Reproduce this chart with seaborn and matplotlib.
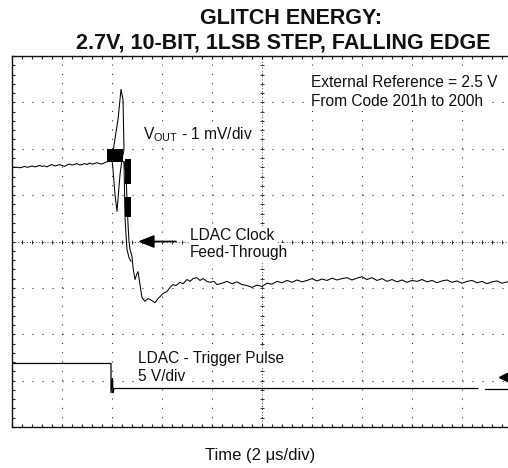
import numpy as np
import pandas as pd
import matplotlib
matplotlib.use("Agg")
import matplotlib.pyplot as plt
import seaborn as sns

# ---------------- data ----------------
# VOUT trace (time in us, voltage in mV on a 1 mV/div screen)
base_t = [-10.0, -9.9, -9.8, -9.7, -9.6, -9.5, -9.4, -9.3, -9.2, -9.1,
          -9.0, -8.9, -8.8, -8.7, -8.6, -8.5, -8.4, -8.3, -8.2, -8.1,
          -8.0, -7.9, -7.8, -7.7, -7.6, -7.5, -7.4, -7.3, -7.2, -7.1,
          -7.0, -6.9, -6.8, -6.7, -6.6, -6.5, -6.4, -6.3, -6.2]
base_mv = [1.61, 1.60, 1.60, 1.59, 1.60, 1.62, 1.60, 1.61, 1.63, 1.61,
           1.62, 1.64, 1.62, 1.63, 1.61, 1.64, 1.66, 1.63, 1.64, 1.66,
           1.64, 1.62, 1.65, 1.67, 1.65, 1.66, 1.68, 1.65, 1.66, 1.68,
           1.66, 1.69, 1.67, 1.68, 1.70, 1.68, 1.67, 1.70, 1.72]

glitch_t = [-6.16, -5.96, -5.76, -5.64, -5.56, -5.52, -5.60, -5.68, -5.76, -5.80,
            -5.88, -5.96, -6.00, -5.84, -5.52, -5.44, -5.40, -5.36, -5.32, -5.28,
            -5.20, -5.16, -5.08, -5.00, -4.96, -4.88, -4.80, -4.68, -4.56, -4.48,
            -4.36, -4.28, -4.16, -4.08, -3.96, -3.80, -3.68, -3.56, -3.44, -3.28,
            -3.16, -3.00, -2.88, -2.76, -2.60, -2.48, -2.36, -2.20, -2.08, -1.92,
            -1.80]
glitch_mv = [1.72, 1.94, 2.63, 3.28, 3.06, 1.98, 1.77, 1.44, 0.91, 0.65,
             1.01, 1.55, 1.77, 1.81, 1.72, 1.44, 0.91, 0.37, 0.00, -0.17,
             -0.32, -0.56, -0.82, -0.69, -0.65, -0.93, -1.21, -1.29, -1.23, -1.25,
             -1.29, -1.32, -1.23, -1.19, -1.12, -1.08, -0.99, -0.93, -0.95, -0.88,
             -0.91, -0.82, -0.86, -0.80, -0.78, -0.84, -0.80, -0.86, -0.88, -0.86,
             -0.93]

tail_t = [-1.6, -1.4, -1.2, -1.0, -0.8, -0.6, -0.4, -0.2, 0.0, 0.2,
          0.4, 0.6, 0.8, 1.0, 1.2, 1.4, 1.6, 1.8, 2.0, 2.2,
          2.4, 2.6, 2.8, 3.0, 3.2, 3.4, 3.6, 3.8, 4.0, 4.2,
          4.4, 4.6, 4.8, 5.0, 5.2, 5.4, 5.6, 5.8, 6.0, 6.2,
          6.4, 6.6, 6.8, 7.0, 7.2, 7.4, 7.6, 7.8, 8.0, 8.2,
          8.4, 8.6, 8.8, 9.0, 9.2, 9.4, 9.6, 9.8, 10.0]
tail_mv = [-0.90, -0.86, -0.91, -0.87, -0.93, -0.95, -0.99, -0.94, -0.97, -0.90,
           -0.92, -0.86, -0.89, -0.84, -0.88, -0.83, -0.87, -0.84, -0.80, -0.85,
           -0.81, -0.84, -0.79, -0.83, -0.80, -0.78, -0.83, -0.79, -0.76, -0.82,
           -0.78, -0.84, -0.80, -0.86, -0.82, -0.87, -0.83, -0.88, -0.84, -0.86,
           -0.82, -0.87, -0.84, -0.89, -0.85, -0.83, -0.88, -0.85, -0.90, -0.86,
           -0.84, -0.89, -0.86, -0.91, -0.87, -0.85, -0.90, -0.87, -0.89]

# second overlapping sweep through the falling edge
sweep2_t = [-5.52, -5.48, -5.44, -5.40, -5.32, -5.24]
sweep2_mv = [1.72, 0.52, 0.15, -0.17, -0.35, -0.43]

# persistence blocks around the glitch (time span, low/high mV)
block_t0 = [-6.20, -5.48, -5.48]
block_t1 = [-5.56, -5.24, -5.24]
block_lo = [1.72, 1.23, 0.52]
block_hi = [2.00, 1.77, 0.97]

# LDAC trigger pulse (volts, 5 V/div), two segments
trig_t = [-10.0, -6.04, -6.04, -5.98, -5.96, -5.92, 8.64]
trig_v = [2.7, 2.7, -0.45, 1.08, -0.45, 0.0, 0.0]
trig2_t = [8.92, 10.0]
trig2_v = [0.0, 0.0]
trig_level_v = 1.2

VOUT_PER_DIV = 1.0     # mV/div
TRIG_PER_DIV = 5.0     # V/div
TRIG_OFFSET_DIV = -3.17

# ---------------- figure ----------------
sns.set_theme(style="white")
plt.rcParams["font.family"] = ["Liberation Sans", "DejaVu Sans"]
plt.rcParams["lines.scale_dashes"] = False

W, H = 508, 468
fig = plt.figure(figsize=(W / 100, H / 100), dpi=100)
ax = fig.add_axes([12 / W, 41 / H, 500 / W, 371 / H])
ax.set_xlim(-10, 10)
ax.set_ylim(-4, 4)

# graticule
ax.set_xticks(np.arange(-10, 10.1, 2))
ax.set_yticks(np.arange(-4, 4.1, 1))
ax.set_xticks(np.arange(-10, 10.1, 0.4), minor=True)
ax.set_yticks(np.arange(-4, 4.1, 0.2), minor=True)
ax.tick_params(which="both", direction="in", length=2.5, width=0.8, color="#222222",
               top=True, right=True, bottom=True, left=True,
               labelbottom=False, labelleft=False)
ax.xaxis.grid(True, which="major", color="#333333", lw=0.8, ls=(0, (0.8, 5.88)))
ax.yaxis.grid(True, which="major", color="#333333", lw=0.8, ls=(0, (0.8, 6.4)))
for s in ax.spines.values():
    s.set_color("#111111")
    s.set_linewidth(1.0)

# centre crosshair with fine ticks
ax.axhline(0, color="#333333", lw=0.6, ls=(0, (0.7, 1.4)), zorder=1)
ax.axvline(0, color="#333333", lw=0.6, ls=(0, (0.7, 1.4)), zorder=1)
cx = np.arange(-10, 10.01, 0.4)
cy = np.arange(-4, 4.01, 0.2)
ax.plot(cx, np.zeros_like(cx), ls="none", marker="|", ms=3.5, mew=0.7, color="#333333")
ax.plot(np.zeros_like(cy), cy, ls="none", marker="_", ms=3.5, mew=0.7, color="#333333")

# VOUT trace
vout = pd.DataFrame({
    "t": base_t + glitch_t + tail_t,
    "div": np.array(base_mv + glitch_mv + tail_mv) / VOUT_PER_DIV,
})
sns.lineplot(data=vout, x="t", y="div", sort=False, estimator=None,
             color="black", lw=0.75, ax=ax)
sns.lineplot(x=sweep2_t, y=np.array(sweep2_mv) / VOUT_PER_DIV, sort=False,
             estimator=None, color="black", lw=0.75, ax=ax)
for t0, t1, lo, hi in zip(block_t0, block_t1, block_lo, block_hi):
    ax.fill_between([t0, t1], [lo / VOUT_PER_DIV] * 2, [hi / VOUT_PER_DIV] * 2,
                    color="black", lw=0, zorder=3)

# trigger trace
trig = pd.DataFrame({
    "t": trig_t + trig2_t,
    "div": TRIG_OFFSET_DIV + np.array(trig_v + trig2_v) / TRIG_PER_DIV,
    "seg": [0] * len(trig_t) + [1] * len(trig2_t),
})
sns.lineplot(data=trig, x="t", y="div", units="seg", sort=False, estimator=None,
             color="black", lw=0.9, ax=ax)
ax.plot([9.68], [TRIG_OFFSET_DIV + trig_level_v / TRIG_PER_DIV], marker="<",
        ms=7.5, color="black", clip_on=False, zorder=5)

ax.set_xlabel("")
ax.set_ylabel("")

# annotations (white backing hides the graticule behind the labels)
txt = dict(fontsize=11.2, color="#111111", va="baseline", ha="left", zorder=4,
           bbox=dict(facecolor="white", edgecolor="none", pad=1.0))
ax.text(1.96, 3.327, "External Reference = 2.5 V", **txt)
ax.text(1.96, 2.93, "From Code 201h to 200h", **txt)
ax.text(-4.76, 2.21, r"V$_{\mathregular{OUT}}$ - 1 mV/div", **txt)
ax.text(-2.88, 0.03, "LDAC Clock", **txt)
ax.text(-2.88, -0.33, "Feed-Through", **txt)
ax.text(-4.95, -2.62, "LDAC - Trigger Pulse", **txt)
ax.text(-4.95, -3.0, "5 V/div", **txt)
ax.annotate("", xy=(-4.96, 0), xytext=(-3.44, 0),
            arrowprops=dict(arrowstyle="-|>,head_length=0.65,head_width=0.26",
                            mutation_scale=15, color="black", lw=1.2,
                            shrinkA=0, shrinkB=0), zorder=6)

# titles and axis caption
fig.text(291 / W, 1 - 24 / H, "GLITCH ENERGY:", ha="center", va="baseline",
         fontsize=15.5, fontweight="bold", color="#111111")
fig.text(283.5 / W, 1 - 48.3 / H, "2.7V, 10-BIT, 1LSB STEP, FALLING EDGE",
         ha="center", va="baseline", fontsize=15.5, fontweight="bold", color="#111111")
fig.text(260 / W, 1 - 460 / H, "Time (2 \u03bcs/div)", ha="center", va="baseline",
         fontsize=12, color="#111111")

fig.savefig("out.png", dpi=100)
